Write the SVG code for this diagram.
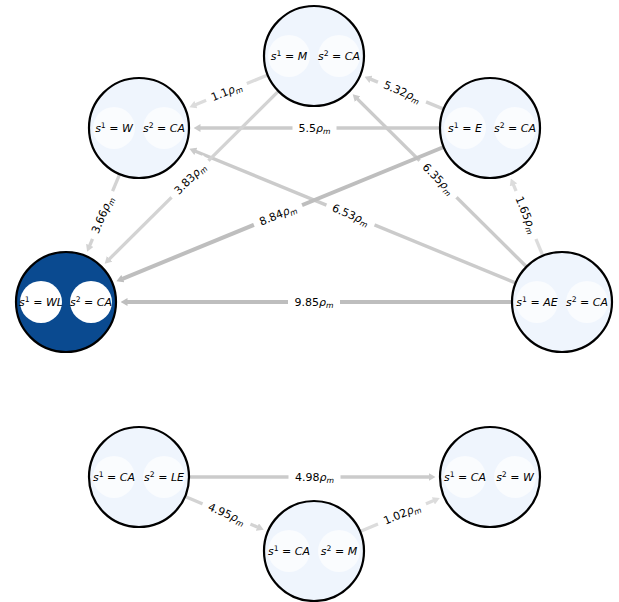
<svg xmlns="http://www.w3.org/2000/svg" width="619" height="602" viewBox="0 0 619 602">
<style>
  .node { fill: #eff5fd; stroke: #000; stroke-width: 2.2; }
  .node.hl { fill: #0a4a90; }
  .sub { fill: #ffffff; fill-opacity: 0.65; stroke: none; }
  .hl-sub { fill: #ffffff; fill-opacity: 1; }
  text { font-family: "DejaVu Sans", "Liberation Sans", sans-serif; font-size: 11px; fill: #000; }
  .it { font-style: italic; }
  .e { fill: none; stroke-linecap: butt; }
  .e1 { stroke: #dcdcdc; stroke-width: 3.3; }
  .e2 { stroke: #d3d3d3; stroke-width: 3.3; }
  .e3 { stroke: #cbcbcb; stroke-width: 3.4; }
  .e4 { stroke: #bebebe; stroke-width: 4; }
  .lb { fill: #ffffff; }
</style>
<defs>
  <marker id="a1" viewBox="0 0 7 8" refX="0.5" refY="4" markerWidth="7" markerHeight="8" markerUnits="userSpaceOnUse" orient="auto"><path d="M0,0 L7,4 L0,8 Z" fill="#dcdcdc"/></marker>
  <marker id="a2" viewBox="0 0 7 8" refX="0.5" refY="4" markerWidth="7" markerHeight="8" markerUnits="userSpaceOnUse" orient="auto"><path d="M0,0 L7,4 L0,8 Z" fill="#d3d3d3"/></marker>
  <marker id="a3" viewBox="0 0 7 8" refX="0.5" refY="4" markerWidth="7" markerHeight="8" markerUnits="userSpaceOnUse" orient="auto"><path d="M0,0 L7,4 L0,8 Z" fill="#cbcbcb"/></marker>
  <marker id="a4" viewBox="0 0 7 8" refX="0.5" refY="4" markerWidth="7" markerHeight="8" markerUnits="userSpaceOnUse" orient="auto"><path d="M0,0 L7,4 L0,8 Z" fill="#bebebe"/></marker>
</defs>
<rect width="619" height="602" fill="#ffffff"/>

<g id="connectors">
  <g id="e-M-W">
    <line class="e e1" x1="267.7" y1="75" x2="195.4" y2="104.8" marker-end="url(#a1)"/>
    <g transform="translate(226.5,92) rotate(-22.4)"><rect class="lb" x="-22" y="-8" width="44" height="16"/><text y="3.5" text-anchor="middle">1.1<tspan class="it">ρ</tspan><tspan font-size="7.7" dy="2.5" class="it">m</tspan></text></g>
  </g>
  <g id="e-E-W">
    <line class="e e3" x1="440" y1="128" x2="200" y2="128" marker-end="url(#a3)"/>
    <g transform="translate(314.5,128)"><rect class="lb" x="-22" y="-8" width="44" height="16"/><text y="3.5" text-anchor="middle">5.5<tspan class="it">ρ</tspan><tspan font-size="7.7" dy="2.5" class="it">m</tspan></text></g>
  </g>
  <g id="e-E-M">
    <line class="e e2" x1="443.7" y1="109.1" x2="370.5" y2="79.1" marker-end="url(#a2)"/>
    <g transform="translate(402,92) rotate(22.25)"><rect class="lb" x="-26" y="-8" width="52" height="16"/><text y="3.5" text-anchor="middle">5.32<tspan class="it">ρ</tspan><tspan font-size="7.7" dy="2.5" class="it">m</tspan></text></g>
  </g>
  <g id="e-AE-M">
    <line class="e e3" x1="526.5" y1="266.8" x2="357.3" y2="98.9" marker-end="url(#a3)"/>
    <g transform="translate(438,179) rotate(44.8)"><rect class="lb" x="-26" y="-8" width="52" height="16"/><text y="3.5" text-anchor="middle">6.35<tspan class="it">ρ</tspan><tspan font-size="7.7" dy="2.5" class="it">m</tspan></text></g>
  </g>
  <g id="e-AE-W">
    <line class="e e3" x1="515.8" y1="283" x2="195.4" y2="151.2" marker-end="url(#a3)"/>
    <g transform="translate(350.5,215) rotate(22.36)"><rect class="lb" x="-26" y="-8" width="52" height="16"/><text y="3.5" text-anchor="middle">6.53<tspan class="it">ρ</tspan><tspan font-size="7.7" dy="2.5" class="it">m</tspan></text></g>
  </g>
  <g id="e-AE-E">
    <line class="e e1" x1="542.9" y1="255.8" x2="513.3" y2="184.4" marker-end="url(#a1)"/>
    <g transform="translate(526,215) rotate(67.5)"><rect class="lb" x="-26" y="-8" width="52" height="16"/><text y="3.5" text-anchor="middle">1.65<tspan class="it">ρ</tspan><tspan font-size="7.7" dy="2.5" class="it">m</tspan></text></g>
  </g>
  <g id="e-W-WL">
    <line class="e e2" x1="119.7" y1="174.1" x2="89.6" y2="245.8" marker-end="url(#a2)"/>
    <g transform="translate(102.5,215) rotate(-67.2)"><rect class="lb" x="-26" y="-8" width="52" height="16"/><text y="3.5" text-anchor="middle">3.66<tspan class="it">ρ</tspan><tspan font-size="7.7" dy="2.5" class="it">m</tspan></text></g>
  </g>
  <g id="e-M-WL">
    <line class="e e2" x1="278.5" y1="91.2" x2="109.3" y2="259.1" marker-end="url(#a2)"/>
    <g transform="translate(190,179) rotate(-44.8)"><rect class="lb" x="-26" y="-8" width="52" height="16"/><text y="3.5" text-anchor="middle">3.83<tspan class="it">ρ</tspan><tspan font-size="7.7" dy="2.5" class="it">m</tspan></text></g>
  </g>
  <g id="e-E-WL">
    <line class="e e4" x1="443.7" y1="147" x2="122.4" y2="278.8" marker-end="url(#a4)"/>
    <g transform="translate(278,215) rotate(-22.3)"><rect class="lb" x="-26" y="-8" width="52" height="16"/><text y="3.5" text-anchor="middle">8.84<tspan class="it">ρ</tspan><tspan font-size="7.7" dy="2.5" class="it">m</tspan></text></g>
  </g>
  <g id="e-AE-WL">
    <line class="e e4" x1="512" y1="302" x2="127" y2="302" marker-end="url(#a4)"/>
    <g transform="translate(314,302)"><rect class="lb" x="-26" y="-8" width="52" height="16"/><text y="3.5" text-anchor="middle">9.85<tspan class="it">ρ</tspan><tspan font-size="7.7" dy="2.5" class="it">m</tspan></text></g>
  </g>
  <g id="e-LE-CW">
    <line class="e e3" x1="189" y1="477" x2="429" y2="477" marker-end="url(#a3)"/>
    <g transform="translate(314.5,477)"><rect class="lb" x="-26" y="-8" width="52" height="16"/><text y="3.5" text-anchor="middle">4.98<tspan class="it">ρ</tspan><tspan font-size="7.7" dy="2.5" class="it">m</tspan></text></g>
  </g>
  <g id="e-LE-CM">
    <line class="e e2" x1="185.1" y1="496.5" x2="257.8" y2="527.2" marker-end="url(#a2)"/>
    <g transform="translate(226.5,514) rotate(22.9)"><rect class="lb" x="-26" y="-8" width="52" height="16"/><text y="3.5" text-anchor="middle">4.95<tspan class="it">ρ</tspan><tspan font-size="7.7" dy="2.5" class="it">m</tspan></text></g>
  </g>
  <g id="e-CM-CW">
    <line class="e e1" x1="360.1" y1="531.6" x2="433.8" y2="500.6" marker-end="url(#a1)"/>
    <g transform="translate(402,514) rotate(-22.8)"><rect class="lb" x="-26" y="-8" width="52" height="16"/><text y="3.5" text-anchor="middle">1.02<tspan class="it">ρ</tspan><tspan font-size="7.7" dy="2.5" class="it">m</tspan></text></g>
  </g>
</g>

<g id="node-M-CA" transform="translate(314,56)">
  <circle class="node" r="50"/>
  <circle class="sub" cx="-25" r="21"/><circle class="sub" cx="25" r="21"/>
  <text x="-25" y="4" text-anchor="middle"><tspan class="it">s</tspan><tspan font-size="7.7" dy="-4.5">1</tspan><tspan dy="4.5"> = </tspan><tspan class="it">M</tspan></text>
  <text x="25" y="4" text-anchor="middle"><tspan class="it">s</tspan><tspan font-size="7.7" dy="-4.5">2</tspan><tspan dy="4.5"> = </tspan><tspan class="it">CA</tspan></text>
</g>
<g id="node-W-CA" transform="translate(139,128)">
  <circle class="node" r="50"/>
  <circle class="sub" cx="-25" r="21"/><circle class="sub" cx="25" r="21"/>
  <text x="-25" y="4" text-anchor="middle"><tspan class="it">s</tspan><tspan font-size="7.7" dy="-4.5">1</tspan><tspan dy="4.5"> = </tspan><tspan class="it">W</tspan></text>
  <text x="25" y="4" text-anchor="middle"><tspan class="it">s</tspan><tspan font-size="7.7" dy="-4.5">2</tspan><tspan dy="4.5"> = </tspan><tspan class="it">CA</tspan></text>
</g>
<g id="node-E-CA" transform="translate(490,128)">
  <circle class="node" r="50"/>
  <circle class="sub" cx="-25" r="21"/><circle class="sub" cx="25" r="21"/>
  <text x="-25" y="4" text-anchor="middle"><tspan class="it">s</tspan><tspan font-size="7.7" dy="-4.5">1</tspan><tspan dy="4.5"> = </tspan><tspan class="it">E</tspan></text>
  <text x="25" y="4" text-anchor="middle"><tspan class="it">s</tspan><tspan font-size="7.7" dy="-4.5">2</tspan><tspan dy="4.5"> = </tspan><tspan class="it">CA</tspan></text>
</g>
<g id="node-WL-CA" transform="translate(66,302)">
  <circle class="node hl" r="50"/>
  <circle class="hl-sub" cx="-25" r="21"/><circle class="hl-sub" cx="25" r="21"/>
  <text x="-25" y="4" text-anchor="middle"><tspan class="it">s</tspan><tspan font-size="7.7" dy="-4.5">1</tspan><tspan dy="4.5"> = </tspan><tspan class="it">WL</tspan></text>
  <text x="25" y="4" text-anchor="middle"><tspan class="it">s</tspan><tspan font-size="7.7" dy="-4.5">2</tspan><tspan dy="4.5"> = </tspan><tspan class="it">CA</tspan></text>
</g>
<g id="node-AE-CA" transform="translate(562,302)">
  <circle class="node" r="50"/>
  <circle class="sub" cx="-25" r="21"/><circle class="sub" cx="25" r="21"/>
  <text x="-25" y="4" text-anchor="middle"><tspan class="it">s</tspan><tspan font-size="7.7" dy="-4.5">1</tspan><tspan dy="4.5"> = </tspan><tspan class="it">AE</tspan></text>
  <text x="25" y="4" text-anchor="middle"><tspan class="it">s</tspan><tspan font-size="7.7" dy="-4.5">2</tspan><tspan dy="4.5"> = </tspan><tspan class="it">CA</tspan></text>
</g>
<g id="node-CA-LE" transform="translate(139,477)">
  <circle class="node" r="50"/>
  <circle class="sub" cx="-25" r="21"/><circle class="sub" cx="25" r="21"/>
  <text x="-25" y="4" text-anchor="middle"><tspan class="it">s</tspan><tspan font-size="7.7" dy="-4.5">1</tspan><tspan dy="4.5"> = </tspan><tspan class="it">CA</tspan></text>
  <text x="25" y="4" text-anchor="middle"><tspan class="it">s</tspan><tspan font-size="7.7" dy="-4.5">2</tspan><tspan dy="4.5"> = </tspan><tspan class="it">LE</tspan></text>
</g>
<g id="node-CA-W" transform="translate(490,477)">
  <circle class="node" r="50"/>
  <circle class="sub" cx="-25" r="21"/><circle class="sub" cx="25" r="21"/>
  <text x="-25" y="4" text-anchor="middle"><tspan class="it">s</tspan><tspan font-size="7.7" dy="-4.5">1</tspan><tspan dy="4.5"> = </tspan><tspan class="it">CA</tspan></text>
  <text x="25" y="4" text-anchor="middle"><tspan class="it">s</tspan><tspan font-size="7.7" dy="-4.5">2</tspan><tspan dy="4.5"> = </tspan><tspan class="it">W</tspan></text>
</g>
<g id="node-CA-M" transform="translate(314,551)">
  <circle class="node" r="50"/>
  <circle class="sub" cx="-25" r="21"/><circle class="sub" cx="25" r="21"/>
  <text x="-25" y="4" text-anchor="middle"><tspan class="it">s</tspan><tspan font-size="7.7" dy="-4.5">1</tspan><tspan dy="4.5"> = </tspan><tspan class="it">CA</tspan></text>
  <text x="25" y="4" text-anchor="middle"><tspan class="it">s</tspan><tspan font-size="7.7" dy="-4.5">2</tspan><tspan dy="4.5"> = </tspan><tspan class="it">M</tspan></text>
</g>
</svg>
